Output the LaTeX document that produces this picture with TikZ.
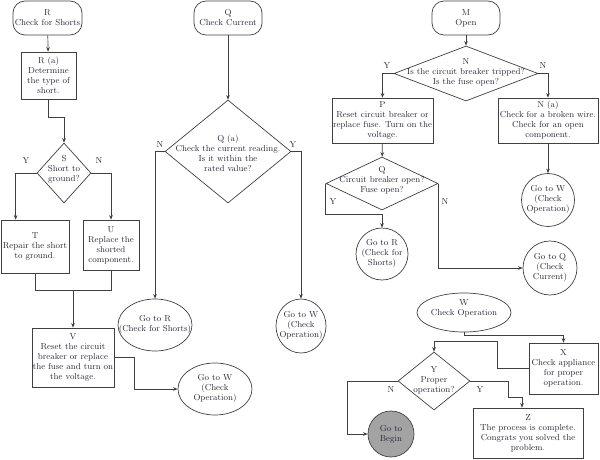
\documentclass[tikz,border=0pt]{standalone}
\usetikzlibrary{shapes.geometric,arrows.meta,calc}
\definecolor{ln}{HTML}{404040}
\definecolor{tx}{HTML}{2E2838}
\definecolor{gbfill}{HTML}{A3A3A3}
\begin{document}
\begin{tikzpicture}[x=1pt,y=-1pt,
  every node/.style={text=tx, align=center, inner sep=0pt, font=\fontsize{8.7}{10}\selectfont},
  term/.style={draw=ln, line width=.7pt, rectangle, rounded corners=12pt},
  box/.style={draw=ln, line width=.7pt, rectangle},
  dia/.style={draw=ln, line width=.7pt, diamond},
  ell/.style={draw=ln, line width=.7pt, ellipse},
  circ/.style={draw=ln, line width=.7pt, circle},
  con/.style={draw=ln, line width=.7pt},
  arr/.style={draw=ln, line width=.7pt, -{Stealth[length=4.5pt,width=3.6pt]}}]
\useasboundingbox (0,0) rectangle (600,460);

% ---------- left column ----------
\node[term, minimum width=69pt, minimum height=34pt] (r) at (47.5,18) {R\\Check for Shorts};
\node[box, minimum width=55pt, minimum height=47pt] (ra) at (48.5,75.5) {R (a)\\Determine\\the type of\\short.};
\node[dia, minimum width=54pt, minimum height=60pt] (s) at (64,173) {};
\node (st) at (64,169) {S\\Short to\\ground?};
\node (sy) at (26,161) {Y};
\node (sn) at (99,161) {N};
\node[box, minimum width=68pt, minimum height=53pt] (t) at (35,246.5) {T\\Repair the short\\to ground.};
\node[box, minimum width=56pt, minimum height=50pt] (u) at (111,245) {U\\Replace the\\shorted\\component.};
\node[box, minimum width=82pt, minimum height=59pt] (v) at (73,357.5) {V\\Reset the circuit\\breaker or replace\\the fuse and turn on\\the voltage.};
\node[ell, minimum width=74pt, minimum height=52pt] (gw1) at (215,389) {};
\node (gw1t) at (gw1) {Go to W\\(Check\\Operation)};

\draw[arr] (r) -- (ra);
\draw[arr] (ra.south) -- ++(0,18) -| (s.north);
\draw[arr] (s.west) -| ($(t.north west)+(15,0)$);
\draw[arr] (s.east) -| (u.north);
\draw[con] (t.south) -- ++(0,17) coordinate (tj) -- (tj -| u.south) -- (u.south);
\draw[arr] (tj -| v.north) -- (v.north);
\draw[arr] (v.east) -- ++(20,0) |- (gw1.west);

% ---------- middle column ----------
\node[term, minimum width=68pt, minimum height=34pt] (q) at (228,18) {Q\\Check Current};
\node[dia, minimum width=126pt, minimum height=103pt] (qa) at (228,151.5) {};
\node (qat) at (228,153) {Q (a)\\Check the current reading.\\Is it within the\\rated value?};
\node (qan) at (160,145) {N};
\node (qay) at (293,145) {Y};
\node[ell, minimum width=74pt, minimum height=52pt] (gr1) at (155,325) {};
\node (gr1t) at (gr1) {Go to R\\(Check for Shorts)};
\node[ell, minimum width=50pt, minimum height=54pt] (gw2) at (301,326) {};
\node (gw2t) at (gw2) {Go to W\\(Check\\Operation)};

\draw[arr] (q) -- (qa);
\draw[arr] (qa.west) -| (gr1.north);
\draw[arr] (qa.east) -| (gw2.north);

% ---------- right column ----------
\node[term, minimum width=68pt, minimum height=34pt] (m) at (466,18) {M\\Open};
\node[dia, minimum width=144pt, minimum height=55pt] (n) at (466,73.5) {};
\node (nt) at (466,72.5) {N\\Is the circuit breaker tripped?\\Is the fuse open?};
\node (ny) at (387,66) {Y};
\node (nn) at (543,66) {N};
\node[box, minimum width=101pt, minimum height=45pt] (p) at (382.5,120.5) {P\\Reset circuit breaker or\\replace fuse. Turn on the\\voltage.};
\node[box, minimum width=100pt, minimum height=45pt] (na) at (548,120.5) {N (a)\\Check for a broken wire.\\Check for an open\\component.};
\node[dia, minimum width=112pt, minimum height=53pt] (q2) at (382,183.5) {};
\node (q2t) at (382,180) {Q\\Circuit breaker open?\\Fuse open?};
\node (q2y) at (333,202) {Y};
\node (q2n) at (445,202) {N};
\node[circ, minimum size=52pt] (gr2) at (382,254) {};
\node (gr2t) at (gr2) {Go to R\\(Check for\\Shorts)};
\node[circ, minimum size=53pt] (gw3) at (548,200) {};
\node (gw3t) at (gw3) {Go to W\\(Check\\Operation)};
\node[circ, minimum size=54pt] (gq) at (550,268) {};
\node (gqt) at (gq) {Go to Q\\(Check\\Current)};

\draw[arr] (m) -- (n);
\draw[arr] (n.west) -| (p.north);
\draw[arr] (n.east) -| (na.north);
\draw[arr] (p) -- (q2);
\draw[arr] (na) -- (gw3);
\draw[arr] (q2.west) -- ++(0,31) -| (gr2.north);
\draw[arr] (q2.east) |- (gq.west);

% ---------- bottom right ----------
\node[ell, minimum width=94pt, minimum height=39pt] (w) at (464,312.5) {};
\node (wt) at (464,308.5) {W\\Check Operation};
\node[box, minimum width=69pt, minimum height=51pt] (x) at (563.5,368.5) {X\\Check appliance\\for proper\\operation.};
\node[dia, minimum width=72pt, minimum height=58pt] (y) at (434,381) {};
\node (yt) at (434,380.5) {Y\\Proper\\operation?};
\node (yn) at (391,390) {N};
\node (yy) at (480,390) {Y};
\node[circ, fill=gbfill, minimum size=46pt] (gb) at (391,434) {};
\node (gbt) at (gb) {Go to\\Begin};
\node[box, minimum width=110pt, minimum height=50pt] (z) at (528,433) {Z\\The process is complete.\\Congrats you solved the\\problem.};

\draw[arr] (w.south) -- ++(0,3) -| (x.north);
\draw[arr] (x.west) -- ++(-31,0) -- ++(0,-27) -| (y.north);
\draw[arr] (y.west) -- ++(-50,0) |- (gb.west);
\draw[arr] (y.east) -- ++(38,0) -- ++(0,16) -| ($(z.north)+(-6,0)$);
\end{tikzpicture}
\end{document}
